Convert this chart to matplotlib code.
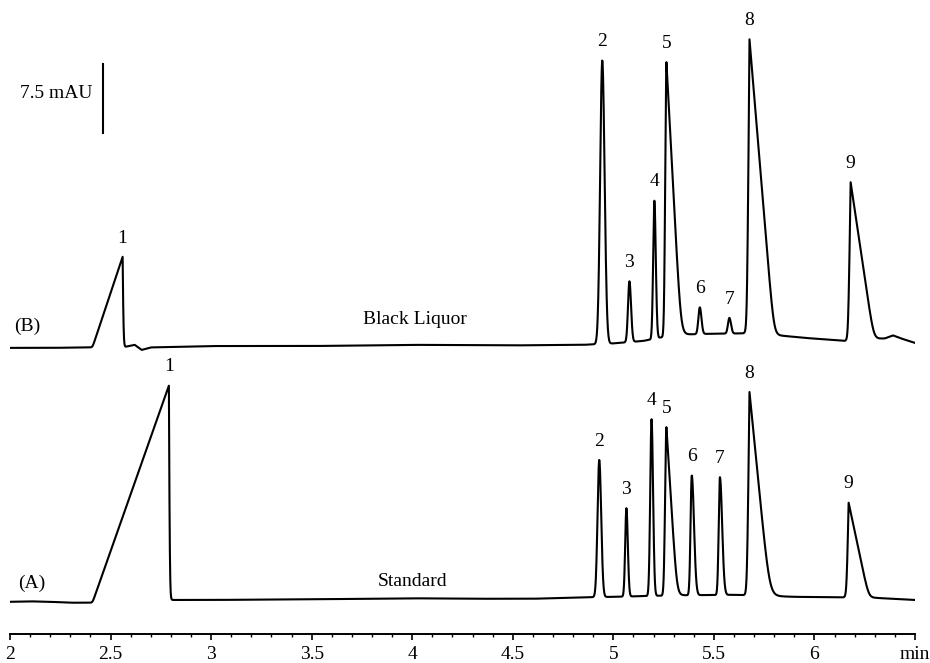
import numpy as np
import matplotlib
matplotlib.use("Agg")
import matplotlib.pyplot as plt
from matplotlib.ticker import MultipleLocator, FixedLocator, FixedFormatter

# ---------------- data ----------------
peak_labels = ['1', '2', '3', '4', '5', '6', '7', '8', '9']

# (A) Standard : retention time (min), height (mAU), shape parameters
std_rt = [2.79, 4.93, 5.065, 5.19, 5.264, 5.39, 5.53, 5.677, 6.17]
std_h = [23.3, 14.9, 9.6, 19.2, 18.3, 13.0, 12.8, 22.1, 10.3]
std_wl = [0.38, 0.0085, 0.006, 0.0065, 0.0065, 0.006, 0.006, 0.012, 0.010]
std_wr = [0.004, 0.0095, 0.007, 0.0075, 0.052, 0.011, 0.011, 0.100, 0.100]
std_kind = ['ll', 'gg', 'gg', 'gg', 'gl', 'gg', 'gg', 'll', 'll']
std_round = [0.002, 0, 0, 0, 0.007, 0, 0, 0.012, 0.008]
std_base_t = [2.0, 2.1, 2.2, 2.3, 2.4, 2.8, 3.0, 3.5, 4.0, 4.3, 4.6, 4.85, 5.0,
              5.3, 5.6, 5.9, 6.1, 6.3, 6.5]
std_base_y = [0.0, 0.05, 0.0, -0.1, -0.1, 0.2, 0.2, 0.27, 0.38, 0.33, 0.33,
              0.49, 0.54, 0.70, 0.76, 0.54, 0.49, 0.43, 0.20]

# (B) Black Liquor
bl_rt = [2.56, 4.945, 5.08, 5.204, 5.264, 5.43, 5.577, 5.677, 6.18]
bl_h = [9.8, 30.8, 6.6, 15.0, 29.8, 2.9, 1.7, 32.0, 17.2]
bl_wl = [0.15, 0.0105, 0.007, 0.006, 0.006, 0.007, 0.007, 0.012, 0.012]
bl_wr = [0.004, 0.0115, 0.008, 0.007, 0.072, 0.008, 0.008, 0.122, 0.115]
bl_kind = ['ll', 'gg', 'gg', 'gg', 'gl', 'gg', 'gg', 'll', 'll']
bl_round = [0.002, 0, 0, 0, 0.008, 0, 0, 0.008, 0.008]
bl_base_t = [2.0, 2.2, 2.4, 2.57, 2.62, 2.655, 2.7, 3.0, 3.5, 4.0, 4.5, 4.85,
             5.0, 5.15, 5.3, 5.45, 5.65, 5.85, 5.95, 6.15, 6.3, 6.35, 6.39,
             6.43, 6.5]
bl_base_y = [0.0, 0.0, 0.05, 0.1, 0.33, -0.22, 0.05, 0.2, 0.2, 0.33, 0.27,
             0.33, 0.49, 0.76, 1.41, 1.52, 1.58, 1.30, 1.09, 0.76, 0.98,
             1.03, 1.36, 1.03, 0.54]

std_offset = 3.5     # mAU, vertical offset of trace A
bl_offset = 31.1     # mAU, vertical offset of trace B
scale_value = 7.5    # mAU scale bar

major_ticks = [2, 2.5, 3, 3.5, 4, 4.5, 5, 5.5, 6, 6.5]
major_labels = ['2', '2.5', '3', '3.5', '4', '4.5', '5', '5.5', '6', 'min']

# ---------------- trace construction ----------------
t = np.linspace(2.0, 6.5, 4501)


def side(dt, w, kind, s):
    if kind == 'g':
        return np.exp(-0.5 * (dt / w) ** 2)
    s = max(s, 0.0015)
    sp = s * np.logaddexp(0, (w - dt) / s)
    sp0 = s * np.logaddexp(0, w / s)
    return sp / sp0


def trace(rt, h, wl, wr, kind, rnd, bt, by, offset):
    y = np.interp(t, bt, by) + offset
    for r, hh, a, b, k, s in zip(rt, h, wl, wr, kind, rnd):
        dt = t - r
        left = side(-dt, a, k[0], 0.003)
        right = side(dt, b, k[1], s)
        y = y + hh * np.where(dt < 0, left, right)
    return y


yA = trace(std_rt, std_h, std_wl, std_wr, std_kind, std_round,
           std_base_t, std_base_y, std_offset)
yB = trace(bl_rt, bl_h, bl_wl, bl_wr, bl_kind, bl_round,
           bl_base_t, bl_base_y, bl_offset)

# ---------------- plotting ----------------
plt.rcParams['font.family'] = ['Liberation Serif', 'DejaVu Serif']
fs = 14

fig = plt.figure(figsize=(9.3, 6.63), dpi=100)
ax = fig.add_axes([10 / 930, 29 / 663, 905 / 930, 634 / 663])
ax.set_xlim(2.0, 6.5)
ax.set_ylim(0, 634 / 9.2)

ax.plot(t, yA, color='black', lw=1.5)
ax.plot(t, yB, color='black', lw=1.5)


def apex(rt, h, bt, by, off):
    return [np.interp(r, bt, by) + off + hh for r, hh in zip(rt, h)]


for lab, r, yy in zip(peak_labels, std_rt,
                      apex(std_rt, std_h, std_base_t, std_base_y, std_offset)):
    ax.annotate(lab, (r, yy), xytext=(0, 13.5), textcoords='offset points',
                ha='center', va='center', fontsize=fs)
for lab, r, yy in zip(peak_labels, bl_rt,
                      apex(bl_rt, bl_h, bl_base_t, bl_base_y, bl_offset)):
    ax.annotate(lab, (r, yy), xytext=(0, 13.5), textcoords='offset points',
                ha='center', va='center', fontsize=fs)

ax.text(2.085, 33.4, '(B)', ha='center', va='center', fontsize=fs)
ax.text(2.109, 5.5, '(A)', ha='center', va='center', fontsize=fs)
ax.text(4.015, 34.2, 'Black Liquor', ha='center', va='center', fontsize=fs)
ax.text(4.0, 5.76, 'Standard', ha='center', va='center', fontsize=fs)

bar_x = 2.463
bar_bottom = 54.46
ax.plot([bar_x, bar_x], [bar_bottom, bar_bottom + scale_value],
        color='black', lw=1.5)
ax.text(2.41, 58.8, '7.5 mAU', ha='right', va='center', fontsize=fs)

for s in ['top', 'left', 'right']:
    ax.spines[s].set_visible(False)
ax.spines['bottom'].set_linewidth(1.4)
ax.set_yticks([])
ax.xaxis.set_major_locator(FixedLocator(major_ticks))
ax.xaxis.set_major_formatter(FixedFormatter(major_labels))
ax.xaxis.set_minor_locator(MultipleLocator(0.1))
ax.tick_params(axis='x', which='major', direction='out', length=4.5,
               width=1.2, labelsize=fs, pad=4)
ax.tick_params(axis='x', which='minor', direction='out', length=2.5,
               width=1.0)

fig.savefig('out.png', dpi=100)
